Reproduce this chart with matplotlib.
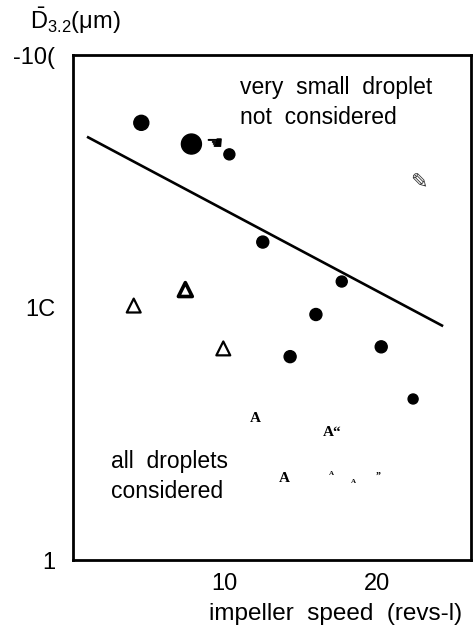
import numpy as np
import matplotlib.pyplot as plt

plt.rcParams['font.family'] = ['Liberation Sans', 'DejaVu Sans']
plt.rcParams['mathtext.fontset'] = 'custom'
plt.rcParams['mathtext.rm'] = 'Liberation Sans'
plt.rcParams['mathtext.it'] = 'Liberation Sans:italic'

# filled circles: mean drop size, very small droplets not considered
circle_speed = [4.5, 7.8, 10.3, 12.5, 17.7, 16.0, 14.3, 20.3, 22.4]
circle_d32 = [54.0, 44.5, 40.5, 18.2, 12.7, 9.4, 6.4, 7.0, 4.35]
circle_px = [15, 20, 11, 12, 11, 12, 12, 12, 10]

# open triangles: all droplets considered
tri_speed = [4.0, 7.4, 9.9]
tri_d32 = [10.2, 11.8, 6.9]
tri_lw = [1.6, 2.6, 1.6]

# triangles that came out of the scan as letters
glyph_speed = [12.0, 17.1, 13.9, 17.0, 18.5, 20.1]
glyph_d32 = [3.65, 3.2, 2.1, 2.2, 2.05, 2.15]
glyph_text = ['A', 'A“', 'A', 'A', 'A', '”']
glyph_size = [11, 11, 11, 5, 5, 7]

# fitted line for the circles
line_speed = [1.0, 24.3]
line_d32 = [47.3, 8.5]

fig = plt.figure(figsize=(4.77, 6.28), dpi=100)
ax = fig.add_axes([0.153, 0.108, 0.834, 0.804])
ax.set_yscale('log')
ax.set_xlim(0, 26.2)
ax.set_ylim(1, 100)

ax.plot(line_speed, line_d32, color='black', lw=1.9)
ax.scatter(circle_speed, circle_d32, s=[(d * 0.72) ** 2 for d in circle_px],
           color='black', zorder=3)
ax.scatter(tri_speed, tri_d32, marker='^', s=100, facecolor='white',
           edgecolor='black', linewidths=tri_lw, zorder=3)
for x, y, t, fs in zip(glyph_speed, glyph_d32, glyph_text, glyph_size):
    ax.text(x, y, t, fontsize=fs, family='Liberation Serif', weight='bold',
            ha='center', va='center')

# scan artefacts next to the points
ax.text(9.3, 44.8, '☚', fontsize=14, family='DejaVu Sans', ha='center', va='center')
ax.text(22.8, 31.5, '✎', fontsize=15, family='DejaVu Sans', ha='center', va='center',
        color='#333333')

ax.text(11.0, 65, 'very  small  droplet\nnot  considered', fontsize=16.5,
        linespacing=1.4, ha='left', va='center')
ax.text(2.5, 2.15, 'all  droplets\nconsidered', fontsize=16.5,
        linespacing=1.4, ha='left', va='center')

ax.set_xticks([10, 20])
ax.set_xticklabels(['10', '20'], fontsize=17)
ax.set_yticks([1, 10, 100])
ax.set_yticklabels(['1', '1C', '-10('], fontsize=17)
ax.minorticks_off()
ax.tick_params(length=0)
ax.tick_params(axis='y', pad=13)
ax.tick_params(axis='x', pad=9)
for sp in ax.spines.values():
    sp.set_linewidth(2)

ax.set_xlabel('impeller  speed  (revs-l)', fontsize=17.5, labelpad=4)
ax.xaxis.set_label_coords(0.66, -0.085)
fig.text(0.063, 0.967, r'$\bar{\mathrm{D}}_{3.2}$(μm)', fontsize=17, va='center')

fig.savefig('out.png', dpi=100)
